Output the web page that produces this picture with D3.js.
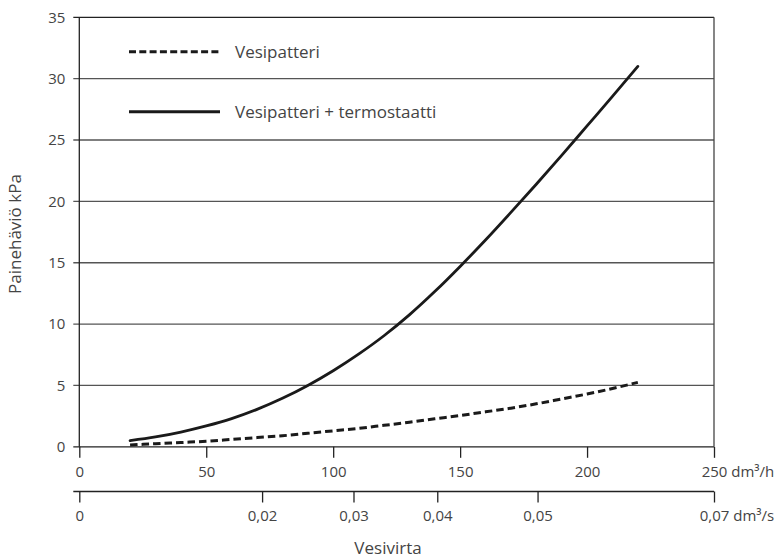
<!DOCTYPE html>
<html>
<head>
<meta charset="utf-8">
<script src="https://cdn.jsdelivr.net/npm/d3@7/dist/d3.min.js"></script>
<style>
  html, body { margin: 0; padding: 0; background: #fff; }
  svg { display: block; }
  text { font-family: "Open Sans", "DejaVu Sans", sans-serif; fill: #444; }
</style>
</head>
<body>
<svg id="chart" width="779" height="558"></svg>
<script>
// ---- data ----
const flowH = [20, 30, 40, 50, 60, 70, 80, 90, 100, 110, 120, 130, 140, 150, 160, 170, 180, 190, 200, 210, 220];
const vesipatteri = [0.15, 0.25, 0.35, 0.45, 0.6, 0.75, 0.9, 1.1, 1.3, 1.5, 1.75, 2.0, 2.28, 2.55, 2.85, 3.15, 3.5, 3.9, 4.3, 4.75, 5.25];
const vesipatteriTermostaatti = [0.5, 0.8, 1.2, 1.7, 2.3, 3.05, 3.95, 5.0, 6.2, 7.55, 9.05, 10.75, 12.65, 14.7, 16.85, 19.1, 21.4, 23.75, 26.15, 28.55, 31.0];
const seriesNames = ["Vesipatteri", "Vesipatteri + termostaatti"];
const yTicks = [0, 5, 10, 15, 20, 25, 30, 35];
const xTicksH = [0, 50, 100, 150, 200, 250];
const xTicksS = [0, 0.02, 0.03, 0.04, 0.05, 0.07];
const xTicksSAsH = [0, 72, 108, 141, 180.5, 250]; // where the dm³/s ticks sit on the dm³/h scale
const unitH = " dm³/h";
const unitS = " dm³/s";
const yTitle = "Painehäviö kPa";
const xTitle = "Vesivirta";

// ---- layout ----
const svg = d3.select("#chart");
const L = 79.3, R = 714, T = 17.3, B = 446.8;
const x = d3.scaleLinear().domain([0, 250]).range([L, R]);
const y = d3.scaleLinear().domain([0, 35]).range([B, T]);
const xs = d3.scaleLinear().domain(xTicksS).range(xTicksSAsH.map(v => x(v)));
const fmt = d3.format(".2f");
const fi = v => v === 0 ? "0" : fmt(v).replace(".", ",");

// gridlines (with tick stubs to the left)
svg.append("g").selectAll("line").data(yTicks).join("line")
  .attr("x1", L - 6).attr("x2", R)
  .attr("y1", d => y(d)).attr("y2", d => y(d))
  .attr("stroke", d => (d === 0 || d === 35) ? "#222" : "#555")
  .attr("stroke-width", 1.3);

// y labels
svg.append("g").selectAll("text").data(yTicks).join("text")
  .attr("x", L - 14).attr("y", d => y(d)).attr("dy", "0.36em")
  .attr("text-anchor", "end").attr("font-size", 15).text(d => d);

// frame verticals
svg.append("line").attr("x1", L).attr("x2", L).attr("y1", T).attr("y2", B)
  .attr("stroke", "#222").attr("stroke-width", 1.3);
svg.append("line").attr("x1", R).attr("x2", R).attr("y1", T).attr("y2", B)
  .attr("stroke", "#444").attr("stroke-width", 1.3);

// primary x axis
const axH = d3.axisBottom(x).tickValues(xTicksH).tickSize(11).tickPadding(9).tickSizeOuter(0)
  .tickFormat(d => d);
const gH = svg.append("g").attr("transform", `translate(0,${B})`).call(axH);
gH.select(".domain").remove();
gH.selectAll(".tick line").attr("stroke", "#222").attr("stroke-width", 1.3);
gH.selectAll(".tick text").attr("font-size", 15).attr("fill", "#444")
  .attr("font-family", "Open Sans, DejaVu Sans, sans-serif");

// secondary x axis
const yS = 491.5;
svg.append("line").attr("x1", L - 6).attr("x2", R).attr("y1", yS).attr("y2", yS)
  .attr("stroke", "#222").attr("stroke-width", 1.3);
const axS = d3.axisBottom(xs).tickValues(xTicksS).tickSize(11).tickPadding(8).tickSizeOuter(0)
  .tickFormat(fi);
const gS = svg.append("g").attr("transform", `translate(0,${yS})`).call(axS);
gS.select(".domain").remove();
gS.selectAll(".tick line").attr("stroke", "#222").attr("stroke-width", 1.3);
gS.selectAll(".tick text").attr("font-size", 15).attr("fill", "#444")
  .attr("font-family", "Open Sans, DejaVu Sans, sans-serif");

// append units to last tick, keeping the number centred on the tick
function addUnit(g, unit) {
  const t = g.selectAll(".tick text").filter((d, i, n) => i === n.length - 1);
  const w = t.node().getComputedTextLength();
  t.attr("text-anchor", "start").attr("x", -w / 2);
  t.append("tspan").text(unit);
}
addUnit(gH, unitH);
addUnit(gS, unitS);

// titles
svg.append("text").attr("transform", `translate(21,${(T + B) / 2 + 2}) rotate(-90)`)
  .attr("text-anchor", "middle").attr("font-size", 17).text(yTitle);
svg.append("text").attr("x", 388).attr("y", 554)
  .attr("text-anchor", "middle").attr("font-size", 17).text(xTitle);

// curves
const line = d3.line().x(d => x(d[0])).y(d => y(d[1])).curve(d3.curveMonotoneX);
const dashData = flowH.map((f, i) => [f, vesipatteri[i]]);
const solidData = flowH.map((f, i) => [f, vesipatteriTermostaatti[i]]);
svg.append("path").attr("d", line(dashData)).attr("fill", "none")
  .attr("stroke", "#1a1a1a").attr("stroke-width", 3).attr("stroke-dasharray", "7.5,4");
svg.append("path").attr("d", line(solidData)).attr("fill", "none")
  .attr("stroke", "#1a1a1a").attr("stroke-width", 2.8).attr("stroke-linecap", "round");

// legend
const leg = svg.append("g");
const legY = [51.7, 111.7];
const legDash = ["7,3.3", null];
seriesNames.forEach((n, i) => {
  leg.append("line").attr("x1", 129).attr("x2", 220).attr("y1", legY[i]).attr("y2", legY[i])
    .attr("stroke", "#1a1a1a").attr("stroke-width", 3)
    .attr("stroke-dasharray", legDash[i]);
  leg.append("text").attr("x", 235).attr("y", legY[i]).attr("dy", "0.35em")
    .attr("font-size", 17).text(n);
});
</script>
</body>
</html>
